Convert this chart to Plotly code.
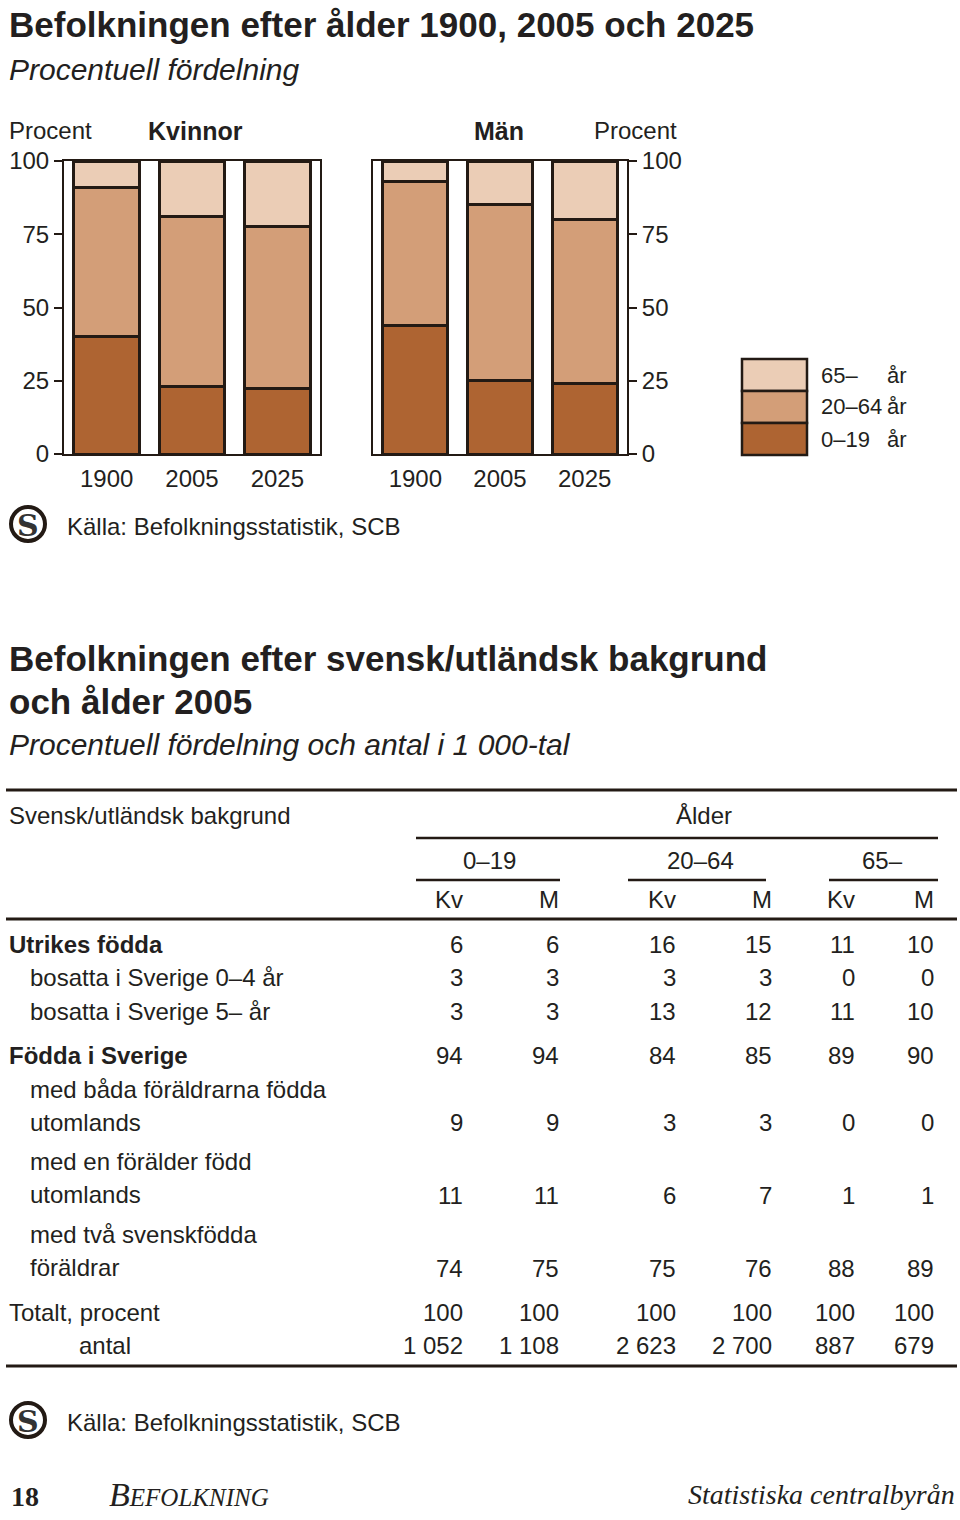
import plotly.graph_objects as go

# ---------------- data ----------------
years = ["1900", "2005", "2025"]
age_groups = ["0–19 år", "20–64 år", "65– år"]
kvinnor_0_19 = [40, 23, 22.5]
kvinnor_20_64 = [51, 58, 55]
kvinnor_65 = [9, 19, 22.5]
man_0_19 = [44, 25, 24]
man_20_64 = [49, 60, 56]
man_65 = [7, 15, 20]
y_ticks = [0, 25, 50, 75, 100]

col_groups = ["0–19", "20–64", "65–"]
col_sex = ["Kv", "M", "Kv", "M", "Kv", "M"]
row_labels = [
    "Utrikes födda",
    "bosatta i Sverige 0–4 år",
    "bosatta i Sverige 5– år",
    "Födda i Sverige",
    "med båda föräldrarna födda<br>utomlands",
    "med en förälder född<br>utomlands",
    "med två svenskfödda<br>föräldrar",
    "Totalt, procent",
    "antal",
]
utrikes_fodda = [6, 6, 16, 15, 11, 10]
bosatta_0_4 = [3, 3, 3, 3, 0, 0]
bosatta_5 = [3, 3, 13, 12, 11, 10]
fodda_i_sverige = [94, 94, 84, 85, 89, 90]
bada_foraldrar_utl = [9, 9, 3, 3, 0, 0]
en_foralder_utl = [11, 11, 6, 7, 1, 1]
tva_svenskfodda = [74, 75, 75, 76, 88, 89]
totalt_procent = [100, 100, 100, 100, 100, 100]
antal = [1052, 1108, 2623, 2700, 887, 679]

# ---------------- styling / layout helpers ----------------
W, H = 960, 1520
DARK = "#231a14"
TXT = "#231f20"
COLORS = ["#AE6432", "#D39E78", "#EBCDB6"]
SANS = "Liberation Sans"
SERIF = "Liberation Serif"


def P(x):
    return x / W


def Q(y):
    return 1 - y / H


annotations = []
shapes = []


def text(x, y, s, size=24, anchor="left", bold=False, italic=False, family=SANS, color=TXT, yanchor="middle"):
    if bold:
        s = "<b>" + s + "</b>"
    if italic:
        s = "<i>" + s + "</i>"
    annotations.append(dict(
        x=P(x), y=Q(y), xref="paper", yref="paper", text=s, showarrow=False,
        xanchor=anchor, yanchor=yanchor, align=anchor if anchor != "center" else "center",
        borderpad=0, font=dict(family=family, size=size, color=color),
    ))


def hline(x0, x1, y, width=2):
    shapes.append(dict(type="line", xref="paper", yref="paper",
                       x0=P(x0), x1=P(x1), y0=Q(y), y1=Q(y),
                       line=dict(color=DARK, width=width)))


def logo(cx, cy):
    r = 17
    shapes.append(dict(type="circle", xref="paper", yref="paper",
                       x0=P(cx - r), x1=P(cx + r), y0=Q(cy + r), y1=Q(cy - r),
                       line=dict(color=DARK, width=4)))
    text(cx, cy + 1, "S", size=30, bold=True, family="DejaVu Serif", anchor="center", color="#333333")


fig = go.Figure()

for vals, name, c in zip([kvinnor_0_19, kvinnor_20_64, kvinnor_65], age_groups, COLORS):
    fig.add_bar(x=years, y=vals, name=name, xaxis="x", yaxis="y", width=0.77,
                marker=dict(color=c, line=dict(color=DARK, width=3)), showlegend=False)
for vals, name, c in zip([man_0_19, man_20_64, man_65], age_groups, COLORS):
    fig.add_bar(x=years, y=vals, name=name, xaxis="x2", yaxis="y2", width=0.77,
                marker=dict(color=c, line=dict(color=DARK, width=3)), showlegend=False)

ydom = [Q(454), Q(161)]
axis_common = dict(showline=True, mirror=True, linecolor=DARK, linewidth=2,
                   showgrid=False, zeroline=False, fixedrange=True)
xaxis_common = dict(axis_common, type="category", range=[-0.5, 2.5], ticks="",
                    tickfont=dict(family=SANS, size=24, color=TXT), ticklabelstandoff=2)
yaxis_common = dict(axis_common, range=[0, 100], tickvals=y_ticks, ticks="outside",
                    ticklen=8, tickwidth=2, tickcolor=DARK,
                    tickfont=dict(family=SANS, size=24, color=TXT))

fig.update_layout(
    width=W, height=H, margin=dict(l=0, r=0, t=0, b=0, autoexpand=False),
    paper_bgcolor="white", plot_bgcolor="white", barmode="stack", bargap=0.2,
    showlegend=False,
    xaxis=dict(xaxis_common, domain=[P(64), P(320)], anchor="y"),
    yaxis=dict(yaxis_common, domain=ydom, anchor="x", side="left"),
    xaxis2=dict(xaxis_common, domain=[P(373), P(627)], anchor="y2"),
    yaxis2=dict(yaxis_common, domain=ydom, anchor="x2", side="right"),
)

# ---------------- chart texts ----------------
text(8, 24, "Befolkningen efter ålder 1900, 2005 och 2025", size=35, bold=True)
text(8, 70, "Procentuell fördelning", size=30, italic=True)
text(8, 131, "Procent", size=24)
text(678, 131, "Procent", size=24, anchor="right")
text(195, 131, "Kvinnor", size=25, bold=True, anchor="center")
text(499, 131, "Män", size=25, bold=True, anchor="center")

# legend (drawn swatches)
leg_top = 359
sw_h = 32
for i, (c, lab) in enumerate(zip(reversed(COLORS), ["65–", "20–64", "0–19"])):
    y0 = leg_top + i * sw_h
    shapes.append(dict(type="rect", xref="paper", yref="paper",
                       x0=P(742), x1=P(807), y0=Q(y0 + sw_h), y1=Q(y0),
                       fillcolor=c, line=dict(color=DARK, width=2.5)))
    text(820, y0 + sw_h / 2, lab, size=22)
    text(886, y0 + sw_h / 2, "år", size=22)

logo(28, 524)
text(66, 526, "Källa: Befolkningsstatistik, SCB", size=24)

# ---------------- table ----------------
text(8, 659, "Befolkningen efter svensk/utländsk bakgrund", size=35, bold=True)
text(8, 702, "och ålder 2005", size=35, bold=True)
text(8, 745, "Procentuell fördelning och antal i 1 000-tal", size=30, italic=True)

hline(6, 957, 790, width=3)
text(8, 815, "Svensk/utländsk bakgrund", size=24)
text(704, 815, "Ålder", size=24, anchor="center")
hline(416, 938, 838, width=2.5)
group_lines = [(416, 560), (628, 766), (829, 938)]
group_centers = [490, 700, 882]
for g, (a, b), cx in zip(col_groups, group_lines, group_centers):
    text(cx, 860, g, size=24, anchor="center")
    hline(a, b, 880, width=2.5)

col_right = [464, 560, 677, 773, 856, 935]
for s, xr in zip(col_sex, col_right):
    text(xr, 900, s, size=24, anchor="right")
hline(6, 957, 919, width=3)


def fmt(v):
    return f"{v:,}".replace(",", " ")


rows = [utrikes_fodda, bosatta_0_4, bosatta_5, fodda_i_sverige, bada_foraldrar_utl,
        en_foralder_utl, tva_svenskfodda, totalt_procent, antal]
label_y = [944, 978, 1011, 1055, 1089, 1161, 1234, 1312, 1345]
value_y = [944, 978, 1011, 1055, 1122, 1195, 1268, 1312, 1345]
label_x = [8, 29, 29, 8, 29, 29, 29, 8, 78]
label_bold = [True, False, False, True, False, False, False, False, False]
for lab, vals, ly, vy, lx, b in zip(row_labels, rows, label_y, value_y, label_x, label_bold):
    parts = lab.split("<br>")
    for k, p in enumerate(parts):
        text(lx, ly + k * 33.5, p, size=24, bold=b)
    for v, xr in zip(vals, col_right):
        text(xr, vy, fmt(v), size=24, anchor="right")

hline(6, 957, 1366, width=3)

logo(28, 1420)
text(66, 1422, "Källa: Befolkningsstatistik, SCB", size=24)

# ---------------- footer ----------------
text(10, 1496, "18", size=28, bold=True, family=SERIF)
text(108, 1494, "B<span style='font-size:25px'>EFOLKNING</span>", size=34, italic=True, family=SERIF)
text(956, 1494, "Statistiska centralbyrån", size=28, italic=True, family=SERIF, anchor="right")

fig.update_layout(annotations=annotations, shapes=shapes)
fig.write_html(
    "out.html",
    config={"displayModeBar": False},
    post_script="document.body.style.margin='0';document.body.style.padding='0';"
                "document.documentElement.style.margin='0';",
)
